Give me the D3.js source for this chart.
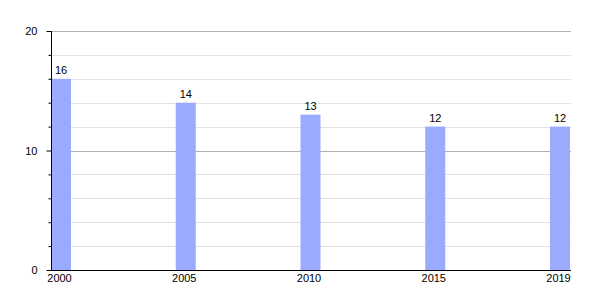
<!DOCTYPE html>
<html><head><meta charset="utf-8">
<script src="https://cdn.jsdelivr.net/npm/d3@7"></script>
<style>body{margin:0;background:#fff}svg{display:block}text{font-family:"Liberation Sans",Arial,sans-serif}</style>
</head><body><svg id="c" width="600" height="300"></svg>
<script>
const years = [2000, 2005, 2010, 2015, 2019];
const values = [16, 14, 13, 12, 12];
const yMajorTicks = [0, 10, 20];
const yMinorTicks = [2, 4, 6, 8, 12, 14, 16, 18];

(function () {
const svg = d3.select("#c");
const mLeft = 51, mRight = 571, mTop = 31, mBottom = 270;
const x = d3.scalePoint().domain(years).range([mLeft + 10, mRight - 11]);
const y = d3.scaleLinear().domain([0, 20]).range([mBottom, mTop]);
const barW = 20;

svg.append("g").selectAll("line").data(yMinorTicks).join("line")
  .attr("x1", mLeft).attr("x2", mRight).attr("y1", d => Math.round(y(d)) + 0.5).attr("y2", d => Math.round(y(d)) + 0.5)
  .attr("stroke", "#e2e2e2");
svg.append("g").selectAll("line").data(yMajorTicks.filter(d => d > 0)).join("line")
  .attr("x1", mLeft).attr("x2", mRight).attr("y1", d => Math.round(y(d)) + 0.5).attr("y2", d => Math.round(y(d)) + 0.5)
  .attr("stroke", "#b0b0b0");

svg.append("g").selectAll("rect").data(years).join("rect")
  .attr("x", d => x(d) - barW / 2).attr("width", barW)
  .attr("y", (d, i) => y(values[i])).attr("height", (d, i) => mBottom - y(values[i]))
  .attr("fill", "#99aaff");

svg.append("g").selectAll("text").data(years).join("text")
  .attr("x", d => x(d)).attr("y", (d, i) => y(values[i]) - 5)
  .attr("text-anchor", "middle").attr("font-size", 11).attr("fill", "#000")
  .text((d, i) => values[i]);

const yAxis = d3.axisLeft(y).tickValues(yMajorTicks).tickSize(5).tickFormat(d3.format("d"));
const gy = svg.append("g").attr("transform", `translate(${mLeft + 0.5},0)`).call(yAxis);
gy.select(".domain").attr("stroke", "#000").attr("d", `M0,${mTop}V${mBottom}`);
gy.selectAll(".tick line").attr("stroke", "#000");
gy.selectAll(".tick text").attr("font-size", 11).attr("font-family", "Liberation Sans, Arial, sans-serif").attr("fill", "#000").attr("x", -14);
const yMinor = d3.axisLeft(y).tickValues(yMinorTicks).tickSize(3).tickFormat("");
const gym = svg.append("g").attr("transform", `translate(${mLeft + 0.5},0)`).call(yMinor);
gym.select(".domain").remove();
gym.selectAll(".tick line").attr("stroke", "#000");

const xAxis = d3.axisBottom(x).tickSize(0).tickFormat(d3.format("d"));
const gx = svg.append("g").attr("transform", `translate(-2,${mBottom + 0.5})`).call(xAxis);
gx.select(".domain").attr("stroke", "#000").attr("d", `M${mLeft + 2},0H${mRight + 2}`);
gx.selectAll(".tick text").attr("font-size", 11).attr("font-family", "Liberation Sans, Arial, sans-serif").attr("fill", "#000").attr("dy", "0.71em").attr("y", 4);
})();
</script></body></html>
